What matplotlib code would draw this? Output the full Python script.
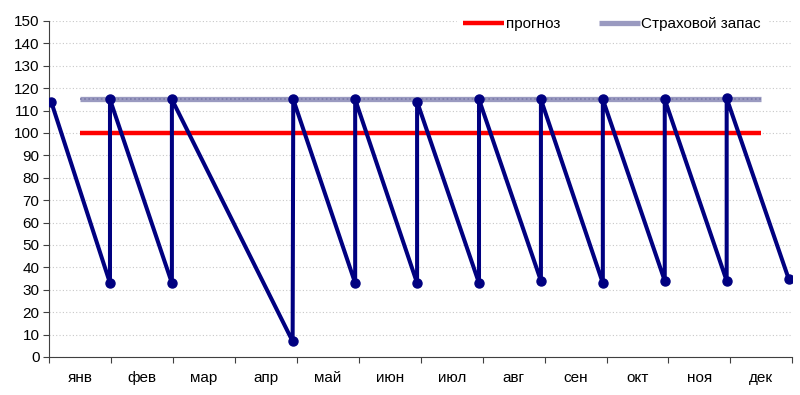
import matplotlib
matplotlib.use('Agg')
import matplotlib.pyplot as plt
import numpy as np

plt.rcParams['font.family'] = ['Liberation Sans', 'DejaVu Sans']

# ---------------- data ----------------
months = ['янв', 'фев', 'мар', 'апр', 'май', 'июн', 'июл', 'авг', 'сен', 'окт', 'ноя', 'дек']

# stock level (x in months from start of year)
stock_x = [0.03, 0.98, 0.98, 1.98, 1.98, 3.93, 3.94, 4.94, 4.94, 5.94, 5.94,
           6.94, 6.94, 7.94, 7.94, 8.94, 8.94, 9.94, 9.94, 10.94, 10.94, 11.94]
stock_y = [114, 33, 115, 33, 115, 7, 115, 33, 115, 33, 114,
           33, 115, 34, 115, 33, 115, 34, 115, 34, 115.5, 35]

# forecast and safety stock, one value per month
forecast = [100] * 12
safety = [115] * 12

# ---------------- plot ----------------
fig = plt.figure(figsize=(8, 3.95), dpi=100)
ax = fig.add_axes([49.3 / 800, 38 / 395, 743 / 800, 336 / 395])

centers = np.arange(12) + 0.5
ax.plot(centers, forecast, color='#ff0000', lw=3.2, solid_capstyle='butt',
        label='прогноз', zorder=3)
ax.plot(centers, safety, color='#9a9ac0', lw=3.8, solid_capstyle='butt',
        label='Страховой запас', zorder=3)
ax.plot(centers, safety, color='#7a7aa8', lw=1.2, ls=(0, (1, 1.5)),
        solid_capstyle='butt', zorder=3)
ax.plot(stock_x, stock_y, color='#000080', lw=2.9, marker='o', ms=6.5,
        zorder=4)

ax.set_xlim(0, 12)
ax.set_ylim(0, 150)
ax.set_yticks(np.arange(0, 151, 10))
ax.grid(axis='y', color='#c8c8c8', lw=0.8, ls=(0, (1, 2)))
ax.set_axisbelow(True)

ax.set_xticks(np.arange(13))
ax.set_xticklabels([])
ax.set_xticks(centers, minor=True)
ax.set_xticklabels(months, minor=True)
ax.tick_params(axis='x', which='minor', length=0, pad=10, labelsize=11)
ax.tick_params(axis='x', which='major', length=4, color='#404040')
ax.tick_params(axis='y', length=4, pad=3, labelsize=11, color='#404040')

for s in ['top', 'right']:
    ax.spines[s].set_visible(False)
for s in ['left', 'bottom']:
    ax.spines[s].set_color('#404040')

leg = ax.legend(loc='upper right', bbox_to_anchor=(0.966, 1.03), ncol=2,
                frameon=True, fontsize=11, handlelength=2.7, handletextpad=0.1,
                columnspacing=2.5, borderaxespad=0)
leg.get_frame().set_edgecolor('white')
leg.get_frame().set_facecolor('white')
leg.get_frame().set_alpha(1)

plt.savefig('out.png', dpi=100)
